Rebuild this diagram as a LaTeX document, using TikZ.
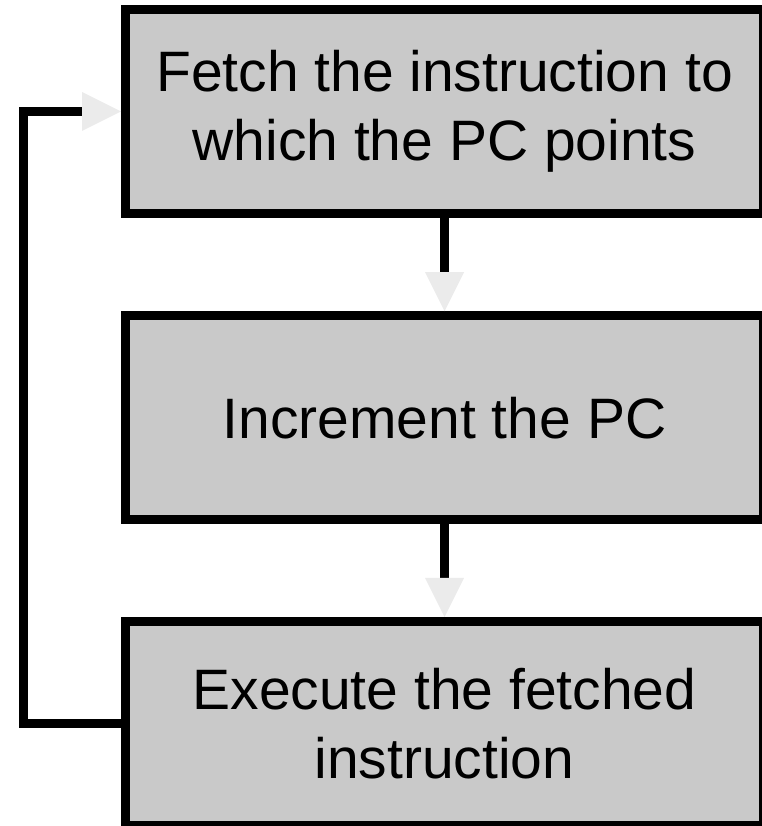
\documentclass[tikz,border=0pt]{standalone}
\usepackage{fontspec}
\setmainfont{Liberation Sans}
\usepackage{tikz}
\usetikzlibrary{arrows.meta, positioning}
\definecolor{boxgray}{HTML}{C9C9C9}
\definecolor{tipgray}{HTML}{EBEBEB}
\tikzstyle{flow} = [line width=9pt, -{Triangle[length=39pt, width=39pt, line width=0pt, color=tipgray]}]

\begin{document}
\begin{tikzpicture}[
    x=1pt, y=1pt,
    stepbox/.style={rectangle, draw=black, line width=9pt, fill=boxgray, minimum width=638pt, minimum height=204pt,
                    font=\fontsize{57}{69}\selectfont, align=center, text centered},
]
\useasboundingbox (0,0) rectangle (761,826);

% Cycle steps
\node[stepbox] (fetch) at (444.5, 714.5) {Fetch the instruction to\\which the PC points};
\node[stepbox] (incr) at (444.5, 408.25) {Increment the PC};
\node[stepbox] (exec) at (444.5, 102.5) {Execute the fetched\\instruction};

% Arrows down
\draw[flow] (fetch.south) -- (incr.north);
\draw[flow] (incr.south) -- (exec.north);

% Back to fetch
\draw[flow] (exec.west) -- ++(-97.5,0) |- (fetch.west);

\end{tikzpicture}
\end{document}
